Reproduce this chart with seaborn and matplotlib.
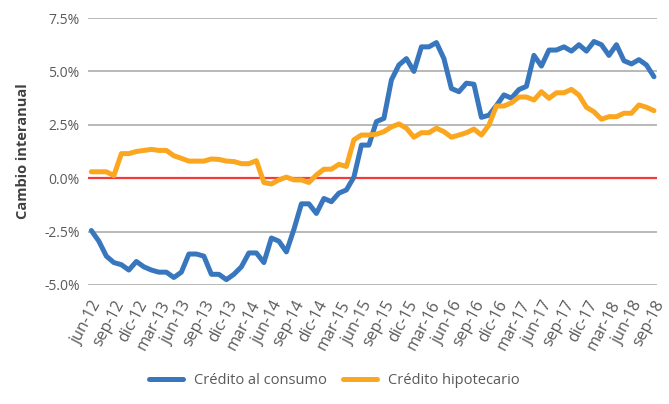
import pandas as pd
import seaborn as sns
import matplotlib.pyplot as plt

# monthly series, jun-12 .. sep-18 (year-on-year change, %)
meses = ["jun", "jul", "ago", "sep", "oct", "nov", "dic", "ene", "feb", "mar", "abr", "may"]
fechas = []
for i in range(76):
    m = meses[i % 12]
    anio = 12 + (i + 5) // 12
    fechas.append(f"{m}-{anio}")

consumo = [-2.45, -2.95, -3.65, -3.95, -4.05, -4.3, -3.9, -4.15, -4.3, -4.4,
           -4.4, -4.65, -4.4, -3.55, -3.55, -3.65, -4.5, -4.5, -4.75, -4.5,
           -4.15, -3.5, -3.5, -3.95, -2.8, -2.95, -3.45, -2.4, -1.2, -1.2,
           -1.65, -0.95, -1.1, -0.7, -0.55, 0.05, 1.55, 1.55, 2.65, 2.8,
           4.6, 5.3, 5.6, 5.0, 6.15, 6.15, 6.35, 5.6, 4.2, 4.05,
           4.45, 4.4, 2.85, 2.95, 3.4, 3.9, 3.75, 4.15, 4.3, 5.75,
           5.25, 6.0, 6.0, 6.15, 5.95, 6.25, 5.95, 6.4, 6.25, 5.75,
           6.25, 5.5, 5.35, 5.55, 5.3, 4.75]

hipotecario = [0.3, 0.3, 0.3, 0.12, 1.15, 1.15, 1.25, 1.3, 1.35, 1.3,
               1.3, 1.05, 0.93, 0.8, 0.8, 0.8, 0.9, 0.88, 0.8, 0.78,
               0.68, 0.68, 0.82, -0.2, -0.27, -0.08, 0.05, -0.08, -0.08, -0.2,
               0.15, 0.42, 0.42, 0.65, 0.55, 1.8, 2.02, 2.02, 2.06, 2.18,
               2.4, 2.54, 2.34, 1.92, 2.13, 2.13, 2.34, 2.18, 1.92, 2.02,
               2.13, 2.3, 2.02, 2.49, 3.38, 3.38, 3.53, 3.8, 3.8, 3.66,
               4.05, 3.74, 4.0, 4.0, 4.16, 3.89, 3.32, 3.11, 2.76, 2.88,
               2.88, 3.04, 3.04, 3.43, 3.32, 3.16]

series = ["Crédito al consumo", "Crédito hipotecario"]
colores = ["#3877BE", "#FBA61F"]

df = pd.DataFrame({
    "idx": list(range(76)) * 2,
    "valor": consumo + hipotecario,
    "serie": [series[0]] * 76 + [series[1]] * 76,
})

sns.set_style("white")
plt.rcParams['font.family'] = ['Open Sans', 'DejaVu Sans']

fig = plt.figure(figsize=(6.69, 4.04), dpi=100)
ax = fig.add_axes([0.1315, 0.2946, 0.8505, 0.6608])

yticks = [-5.0, -2.5, 0.0, 2.5, 5.0, 7.5]
for t in yticks:
    if t != 0:
        ax.axhline(t, color="#a6a6a6", lw=1.1, zorder=0)
ax.axhline(0, color="#f43a3a", lw=1.6, zorder=1)

sns.lineplot(data=df, x="idx", y="valor", hue="serie", palette=colores,
             linewidth=3.6, ax=ax, zorder=3)

ax.set_xlim(-0.45, 75.4)
ax.set_ylim(-5.0, 7.5)
ax.set_yticks(yticks)
ax.set_yticklabels([f"{t:.1f}%" for t in yticks], fontsize=10, color="#595959")
pos = list(range(0, 76, 3))
ax.set_xticks(pos)
ax.set_xticklabels([fechas[p] for p in pos], rotation=62, ha="right",
                   rotation_mode="anchor", fontsize=11.5, color="#595959")
ax.tick_params(axis="y", length=0, pad=6)
ax.tick_params(axis="x", length=0, pad=9)
ax.set_xlabel("")
ax.set_ylabel("Cambio interanual", fontsize=10.5, fontweight="bold",
              color="#404040", labelpad=10)
for s in ax.spines.values():
    s.set_visible(False)

ax.get_legend().remove()
h, l = ax.get_legend_handles_labels()
fig.legend(h, l, loc="center", bbox_to_anchor=(0.5, 0.057), ncol=2,
           frameon=False, fontsize=10.5, handlelength=2.3, columnspacing=1.1,
           labelcolor="#595959")

fig.savefig("out.png", dpi=100)
